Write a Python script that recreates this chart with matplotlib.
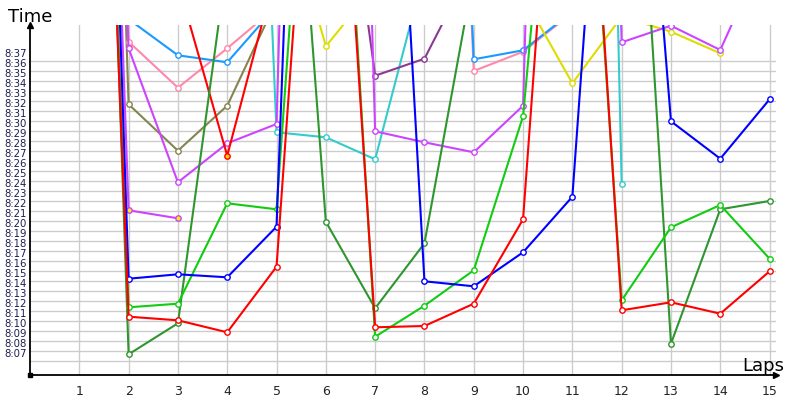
import numpy as np
import matplotlib
matplotlib.use("Agg")
import matplotlib.pyplot as plt
from matplotlib.transforms import ScaledTranslation

# lap times, seconds past 8:00 (values above 39.6 run off the top of the chart)
nan = np.nan
laps = list(range(1, 16))

red      = [135, 10.4, 10.04, 8.84, 15.4, 85, 9.34, 9.47, 11.7, 20.14, 88, 11.04, 11.84, 10.7, 14.94]
blue     = [160, 14.2, 14.64, 14.34, 19.4, 152, 102, 13.94, 13.44, 16.84, 22.4, 91, 29.94, 26.2, 32.14]
green    = [140, 11.34, 11.7, 21.74, 21.14, 90, 8.4, 11.5, 15.04, 30.44, 84, 12.04, 19.34, 21.57, 16.2]
dkgreen  = [150, 6.64, 9.74, 46, 85.5, 19.9, 11.24, 17.74, 44.7, 60, 75, 87.4, 7.7, 21.14, 21.97]
magenta  = [150, 37.24, 23.84, 27.74, 29.67, 200, 28.94, 27.84, 26.84, 31.5, 200, 37.84, 39.5, 37.07, 48]
magenta2 = [159, 21.04, 20.24, nan, nan, nan, nan, nan, nan, nan, nan, nan, nan, nan, nan]
pink     = [150, 37.9, 33.3, 37.24, 41.4, 60, 100, 150, 34.97, 36.9, 40.8, nan, nan, nan, nan]
ltblue   = [150, 40.15, 36.54, 35.84, 41.45, 60, 100, 150, 36.14, 37.04, 40.9, nan, nan, nan, nan]
olive    = [181, 31.64, 27.0, 31.5, 42.0, nan, nan, nan, nan, nan, nan, nan, nan, nan, nan]
cyan     = [nan, nan, nan, 148, 28.84, 28.34, 26.14, 45, 120, 200, 240, 23.64, nan, nan, nan]
yellow   = [nan, nan, nan, nan, 55, 37.44, 43.5, 48, 46, 42.5, 33.74, 40.4, 38.9, 36.74, nan]
dkpurple = [nan, nan, nan, nan, nan, 70.7, 34.5, 36.2, 45.8, nan, nan, nan, nan, nan, nan]
red2     = [nan, nan, 43.8, 26.5, 45.2, nan, nan, nan, nan, nan, nan, nan, nan, nan, nan]

# (values, line colour, marker fill), drawn bottom to top
series = [
    (olive, "#85854f", "white"),
    (pink, "#ff88aa", "white"),
    (ltblue, "#1a9aff", "white"),
    (cyan, "#33cccc", "white"),
    (yellow, "#dddd00", "white"),
    (dkpurple, "#8b3a93", "white"),
    (magenta, "#cc44ff", "white"),
    (magenta2, "#cc44ff", "#ffee00"),
    (red2, "#ff0000", "#ffcc00"),
    (dkgreen, "#2f962f", "white"),
    (green, "#11cc11", "white"),
    (blue, "#0000ff", "white"),
    (red, "#ff0000", "white"),
]

ytick_vals = list(range(7, 38))
ytick_labels = ["8:%02d" % v for v in ytick_vals]
hgrid_vals = list(range(6, 37))

fig = plt.figure(figsize=(8, 4), dpi=100)
ax = fig.add_axes([30 / 800, 25 / 400, 746 / 800, 350 / 400])

ax.set_xlim(0, 15.13)
ax.set_ylim(4.57, 39.57)

for v in hgrid_vals:
    ax.axhline(v, color="#cccccc", lw=1, zorder=0)
for x in laps:
    ax.axvline(x, color="#cccccc", lw=1, zorder=0)

for vals, col, face in series:
    ax.plot(laps, vals, color=col, lw=1.5, marker="o", ms=3.9,
            mfc=face, mec=col, mew=1.0)

ax.spines["top"].set_visible(False)
ax.spines["right"].set_visible(False)
ax.spines["left"].set_linewidth(1.3)
ax.spines["bottom"].set_linewidth(1.3)

ax.set_xticks(laps)
ax.set_xticklabels([str(l) for l in laps], fontsize=9, color="#222222")
ax.set_yticks(ytick_vals)
ax.set_yticklabels(ytick_labels, fontsize=7.3, color="#1c1c50")
ax.tick_params(axis="both", length=0)
ax.tick_params(axis="x", pad=7)
ax.tick_params(axis="y", pad=2)
shift = ScaledTranslation(0, -2.3 / 100, fig.dpi_scale_trans)
for lab in ax.get_yticklabels():
    lab.set_transform(lab.get_transform() + shift)

# axis arrows and origin mark
ax.plot(0, 1, "^k", ms=5, transform=ax.transAxes, clip_on=False)
ax.plot(1, 0, ">k", ms=5, transform=ax.transAxes, clip_on=False)
ax.plot(0, 0, "sk", ms=3, transform=ax.transAxes, clip_on=False)

fig.text(30 / 800, 1 - 17 / 400, "Time", fontsize=13, ha="center", va="center")
fig.text(763 / 800, 1 - 366 / 400, "Laps", fontsize=13, ha="center", va="center")

fig.savefig("out.png", dpi=100)
